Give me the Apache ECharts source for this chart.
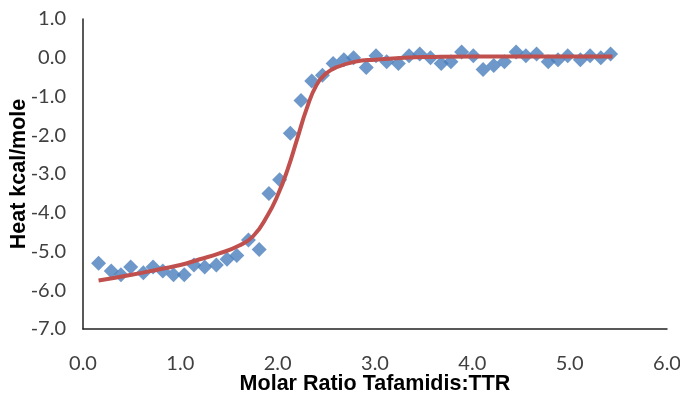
<!DOCTYPE html>
<html>
<head>
<meta charset="utf-8">
<script src="https://cdn.jsdelivr.net/npm/echarts@6/dist/echarts.min.js"></script>
<style>
  html, body { margin: 0; padding: 0; background: #fff; }
  #chart { width: 680px; height: 404px; }
</style>
</head>
<body>
<div id="chart"></div>
<script>
// measured points (molar ratio, heat)
var ratioPts = [0.16, 0.29, 0.39, 0.49, 0.62, 0.72, 0.82, 0.93, 1.04, 1.14, 1.25, 1.37, 1.48, 1.58, 1.70, 1.81,
  1.91, 2.02, 2.13, 2.24, 2.35, 2.46, 2.57, 2.68, 2.78, 2.91, 3.01, 3.12, 3.24, 3.35, 3.46, 3.57, 3.68,
  3.78, 3.89, 4.01, 4.11, 4.22, 4.33, 4.45, 4.55, 4.66, 4.78, 4.88, 4.98, 5.11, 5.21, 5.32, 5.42];
var heatPts = [-5.3, -5.5, -5.6, -5.4, -5.55, -5.4, -5.5, -5.6, -5.6, -5.35, -5.4, -5.35, -5.2, -5.1, -4.7, -4.95,
  -3.5, -3.15, -1.95, -1.1, -0.6, -0.45, -0.15, -0.05, 0.0, -0.25, 0.05, -0.1, -0.15, 0.05, 0.1, 0.0, -0.15,
  -0.1, 0.15, 0.05, -0.3, -0.2, -0.1, 0.15, 0.05, 0.1, -0.1, -0.05, 0.05, -0.05, 0.05, 0.0, 0.1];

// fitted curve
var fitX = [0.16, 0.5, 0.8, 1.0, 1.2, 1.4, 1.6, 1.75, 1.9, 2.0, 2.1, 2.2, 2.3, 2.4, 2.5, 2.6, 2.8, 3.0, 3.3, 3.6, 4.0, 4.5, 5.0, 5.44];
var fitY = [-5.75, -5.6, -5.45, -5.35, -5.2, -5.05, -4.85, -4.6, -4.05, -3.55, -2.9, -2.1, -1.3, -0.7, -0.4, -0.25, -0.1, -0.05, 0, 0.02, 0.03, 0.03, 0.03, 0.03];

var pts = ratioPts.map(function (x, i) { return [x, heatPts[i]]; });
var fit = fitX.map(function (x, i) { return [x, fitY[i]]; });

var chart = echarts.init(document.getElementById('chart'));
var tickFont = { fontFamily: 'Lato', fontSize: 20, color: '#404040' };
var nameFont = { fontFamily: 'Liberation Sans', fontWeight: 'bold', fontSize: 21.5, color: '#000' };
chart.setOption({
  animation: false,
  grid: { left: 83, right: 13, top: 19, bottom: 75, outerBoundsMode: 'none' },
  xAxis: {
    type: 'value', min: 0, max: 6, interval: 1,
    name: 'Molar Ratio Tafamidis:TTR', nameLocation: 'middle', nameGap: 44, nameMoveOverlap: false,
    nameTextStyle: nameFont,
    axisLine: { onZero: false, lineStyle: { color: '#222', width: 1.5 } },
    axisTick: { show: false },
    splitLine: { show: false },
    axisLabel: Object.assign({ margin: 25, formatter: function (v) { return v.toFixed(1); } }, tickFont)
  },
  yAxis: {
    type: 'value', min: -7, max: 1, interval: 1,
    name: 'Heat kcal/mole', nameLocation: 'middle', nameGap: 53, nameRotate: 90, nameMoveOverlap: false,
    nameTextStyle: nameFont,
    axisLine: { show: true, onZero: false, lineStyle: { color: '#222', width: 1.5 } },
    axisTick: { show: false },
    splitLine: { show: false },
    axisLabel: Object.assign({ margin: 17, formatter: function (v) { return v.toFixed(1); } }, tickFont)
  },
  series: [
    {
      type: 'scatter', data: pts, symbol: 'diamond', symbolSize: 15,
      itemStyle: { color: '#4a7ebb' }, z: 2
    },
    {
      type: 'line', data: fit, smooth: true, showSymbol: false,
      lineStyle: { color: '#c0504d', width: 4 }, z: 3
    }
  ]
});
</script>
</body>
</html>
